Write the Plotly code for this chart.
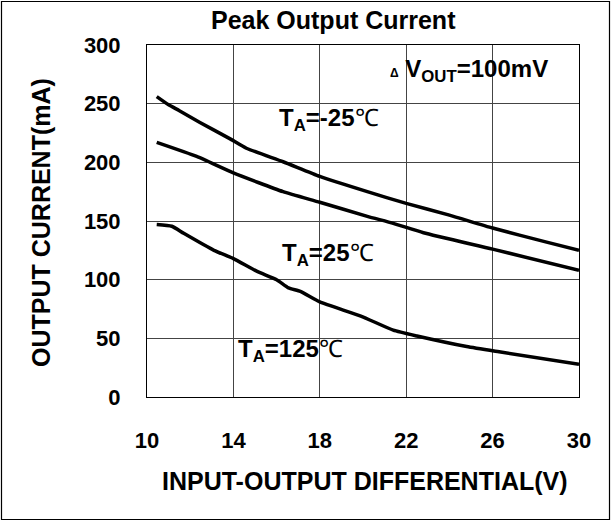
import plotly.graph_objects as go

# ---- data ----
x_m25 = [10.45, 11.0, 11.5, 12.45, 13.85, 14.6, 16.3, 18.0, 20.2, 22.0, 24.0, 26.0, 28.5, 30.0]
y_m25 = [256, 249, 244, 234, 220, 212, 200.5, 188, 175, 165, 155, 144, 132, 125]

x_25 = [10.45, 12.3, 14.0, 16.3, 18.0, 20.2, 21.4, 22.8, 26.0, 30.0]
y_25 = [217, 205, 191, 175, 166, 154, 148, 140, 126, 108]

x_125 = [10.45, 11.15, 11.7, 13.1, 14.0, 15.1, 16.0, 16.55, 17.1, 18.0, 19.9, 21.4, 22.5, 24.8, 26.3, 30.0]
y_125 = [147, 145.5, 139.5, 125, 118, 107, 100, 93, 90, 81, 69, 57, 52, 43, 38.5, 28]

x_ticks = [10, 14, 18, 22, 26, 30]
y_ticks = [0, 50, 100, 150, 200, 250, 300]

title_text = "Peak Output Current"
x_title = "INPUT-OUTPUT DIFFERENTIAL(V)"
y_title = "OUTPUT CURRENT(mA)"

# ---- geometry ----
W, H = 611, 521
L, R, T, B = 147, 32, 45, 124
PW, PH = W - L - R, H - T - B


def px(xp):
    return (xp - L) / PW


def py(yp):
    return (H - B - yp) / PH


FONT = "Liberation Sans, Arial, sans-serif"

fig = go.Figure()
for xs, ys in [(x_m25, y_m25), (x_25, y_25), (x_125, y_125)]:
    fig.add_trace(go.Scatter(x=xs, y=ys, mode="lines",
                             line=dict(color="black", width=3.5, shape="spline", smoothing=0.5),
                             showlegend=False, hoverinfo="skip"))

axis_common = dict(showgrid=True, gridcolor="#444444", gridwidth=1,
                   showline=True, linecolor="black", linewidth=1, mirror=True,
                   zeroline=False, ticks="",
                   tickfont=dict(family=FONT, size=22, color="black", weight="bold"))

fig.update_xaxes(range=[10, 30], tickvals=x_ticks, ticklabelstandoff=24, **axis_common)
fig.update_yaxes(range=[0, 300], tickvals=y_ticks, ticklabelstandoff=21, **axis_common)

# white boxes that interrupt the grid behind the labels
boxes = [(378, 46, 574, 92), (270, 90, 400, 140), (275, 226, 385, 277), (228, 327, 377, 371)]
shapes = []
for x0, y0, x1, y1 in boxes:
    shapes.append(dict(type="rect", xref="paper", yref="paper",
                       x0=px(x0), x1=px(x1), y0=py(y1), y1=py(y0),
                       fillcolor="white", line=dict(width=0), layer="between"))
# outer frame of the whole picture
shapes.append(dict(type="rect", xref="paper", yref="paper",
                   x0=px(1.5), x1=px(609.5), y0=py(519.5), y1=py(1.5),
                   line=dict(color="black", width=1.2), fillcolor="rgba(0,0,0,0)", layer="above"))

deg = "<span style='font-weight:normal'>℃</span>"
bold = dict(family=FONT, color="black", weight="bold")
annotations = [
    dict(text=title_text, x=px(333), y=py(20), font=dict(size=25, **bold)),
    dict(text=x_title, x=px(365), y=py(481), font=dict(size=25, **bold)),
    dict(text=y_title, x=px(41), y=py(223), textangle=-90, font=dict(size=25, **bold)),
    dict(text="<span style='font-size:12px'>Δ</span> V<sub>OUT</sub>=100mV",
         x=px(469), y=py(70), font=dict(size=24, **bold)),
    dict(text="T<sub>A</sub>=-25" + deg, x=px(329), y=py(119), font=dict(size=24, **bold)),
    dict(text="T<sub>A</sub>=25" + deg, x=px(328), y=py(254), font=dict(size=24, **bold)),
    dict(text="T<sub>A</sub>=125" + deg, x=px(290), y=py(350), font=dict(size=24, **bold)),
]
for a in annotations:
    a.update(xref="paper", yref="paper", showarrow=False, xanchor="center", yanchor="middle")

fig.update_layout(width=W, height=H, margin=dict(l=L, r=R, t=T, b=B),
                  paper_bgcolor="white", plot_bgcolor="white",
                  shapes=shapes, annotations=annotations, showlegend=False)

fig.write_html("out.html", config={"displayModeBar": False},
               post_script="document.body.style.margin='0';")
